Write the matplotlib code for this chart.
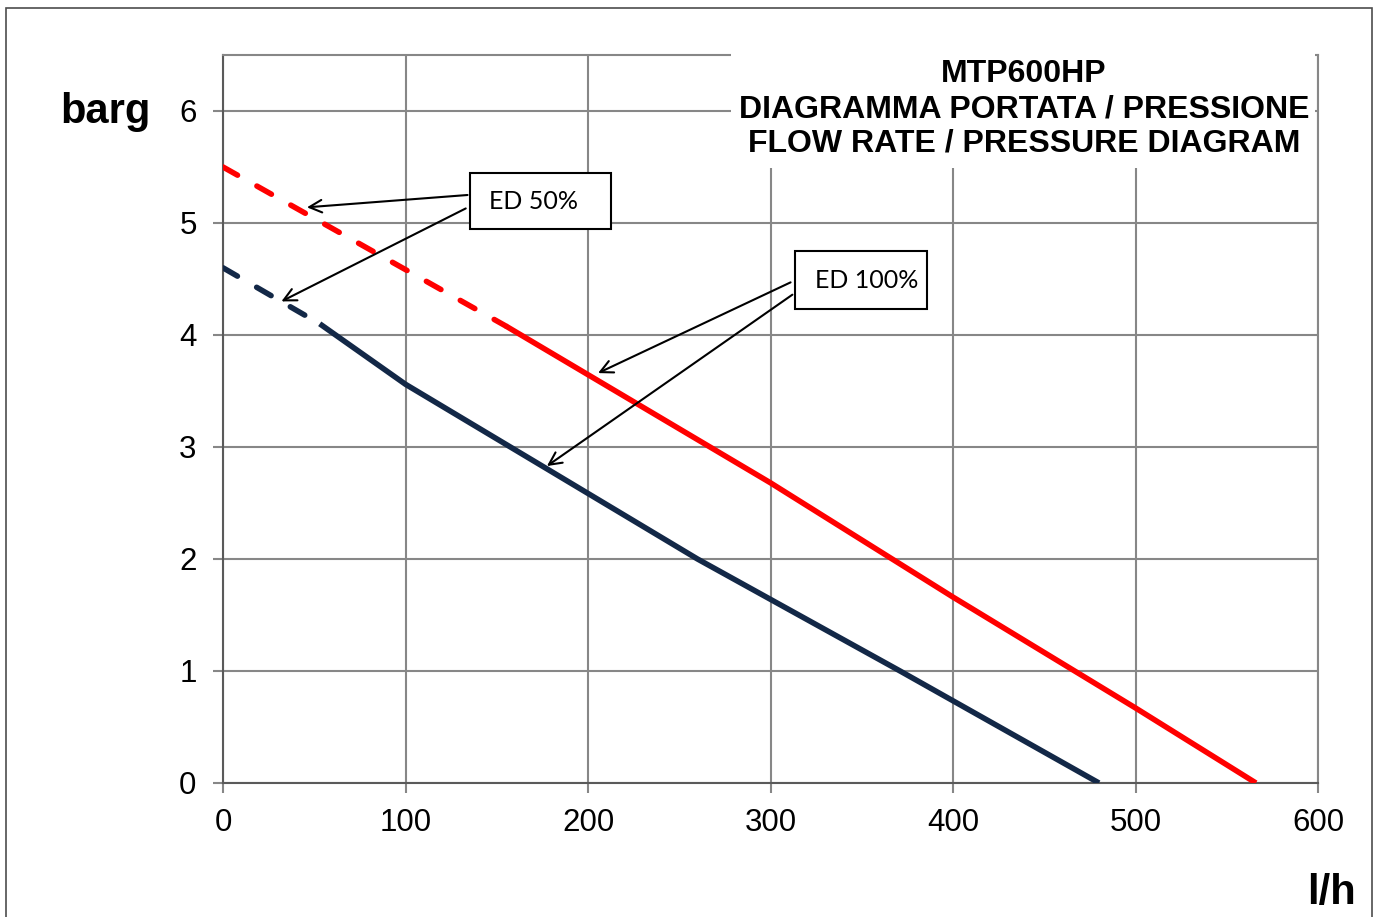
import matplotlib
matplotlib.use('Agg')
import matplotlib.pyplot as plt
from matplotlib.patches import Rectangle

plt.rcParams['font.family'] = ['Liberation Sans', 'DejaVu Sans']

# ED 50% / ED 100% curves, flow rate l/h vs pressure barg
red_x = [0, 155, 300, 400, 500, 566]
red_y = [5.5, 4.08, 2.68, 1.66, 0.67, 0.0]
red_dashed_pts = 2      # first points = dashed (ED 50%) part

navy_x = [0, 53, 100, 178, 260, 371, 480]
navy_y = [4.6, 4.1, 3.56, 2.8, 2.0, 1.0, 0.0]
navy_dashed_pts = 2

x_ticks = [0, 100, 200, 300, 400, 500, 600]
y_ticks = [0, 1, 2, 3, 4, 5, 6]

title_lines = ['MTP600HP', 'DIAGRAMMA PORTATA / PRESSIONE', 'FLOW RATE / PRESSURE DIAGRAM']

RED = '#FF0000'
NAVY = '#132847'
GRID = '#878787'

fig = plt.figure(figsize=(13.78, 9.17), dpi=100)
ax = fig.add_axes([223/1378, 1-783/917, (1318-223)/1378, (783-55)/917])

ax.set_xlim(0, 600)
ax.set_ylim(0, 6.5)
ax.set_xticks(x_ticks)
ax.set_yticks(y_ticks)
ax.tick_params(axis='both', direction='out', length=7, width=1.5, color=GRID,
               labelsize=22.5)
ax.tick_params(axis='x', pad=11)
ax.tick_params(axis='y', pad=12)
ax.grid(True, color=GRID, lw=1.5, zorder=0)
ax.set_axisbelow(True)
for s in ['top', 'right']:
    ax.spines[s].set_color(GRID)
    ax.spines[s].set_linewidth(1.5)
for s in ['left', 'bottom']:
    ax.spines[s].set_color('#5a5a5a')
    ax.spines[s].set_linewidth(1.5)

dash = (0, (3, 4))
k = red_dashed_pts
ax.plot(red_x[:k], red_y[:k], color=RED, lw=4, ls=dash, dash_capstyle='round', zorder=3)
ax.plot(red_x[k-1:], red_y[k-1:], color=RED, lw=4, solid_capstyle='butt', zorder=3)
k = navy_dashed_pts
ax.plot(navy_x[:k], navy_y[:k], color=NAVY, lw=4, ls=dash, dash_capstyle='round', zorder=3)
ax.plot(navy_x[k-1:], navy_y[k-1:], color=NAVY, lw=4, solid_capstyle='butt', zorder=3)

# annotation boxes with arrows
arr = dict(arrowstyle='->,head_length=0.9,head_width=0.45', color='black', lw=1.5,
           shrinkA=0, shrinkB=0)
lab_font = ['Lato', 'DejaVu Sans']

ax.add_patch(Rectangle((135.3, 4.945), 77.3, 0.5, fc='white', ec='black', lw=1.5, zorder=5))
ax.text(170.4, 5.195, 'ED 50%', fontsize=18, family=lab_font,
        ha='center', va='center', zorder=6)
ax.annotate('', xy=(46, 5.14), xytext=(134, 5.25), arrowprops=arr, zorder=4)
ax.annotate('', xy=(32, 4.30), xytext=(133, 5.13), arrowprops=arr, zorder=4)

ax.add_patch(Rectangle((313.4, 4.23), 72.4, 0.518, fc='white', ec='black', lw=1.5, zorder=5))
ax.text(352.6, 4.489, 'ED 100%', fontsize=18, family=lab_font,
        ha='center', va='center', zorder=6)
ax.annotate('', xy=(205.5, 3.66), xytext=(311, 4.47), arrowprops=arr, zorder=4)
ax.annotate('', xy=(177.5, 2.83), xytext=(312, 4.36), arrowprops=arr, zorder=4)

# title box covering the upper-right grid
fig.add_artist(Rectangle((731/1378, 1-168/917), (1315-731)/1378, (168-53)/917,
                         transform=fig.transFigure, fc='white', ec='none', zorder=2))
fig.text(1024/1378, 1-109/917, '\n'.join(title_lines), fontsize=23, fontweight='bold',
         ha='center', va='center', linespacing=1.2, zorder=3)

fig.text(105/1378, 1-112/917, 'barg', fontsize=30, fontweight='bold', ha='center', va='center')
fig.text(1332/1378, 1-893/917, 'l/h', fontsize=30, fontweight='bold', ha='center', va='center')

# outer frame
fig.add_artist(Rectangle((6/1378, -0.01), (1372-6)/1378, 1.01-8/917,
                         transform=fig.transFigure, fc='none', ec='#4d4d4d', lw=1.2, zorder=0))

plt.savefig('out.png', dpi=100)
plt.close()
